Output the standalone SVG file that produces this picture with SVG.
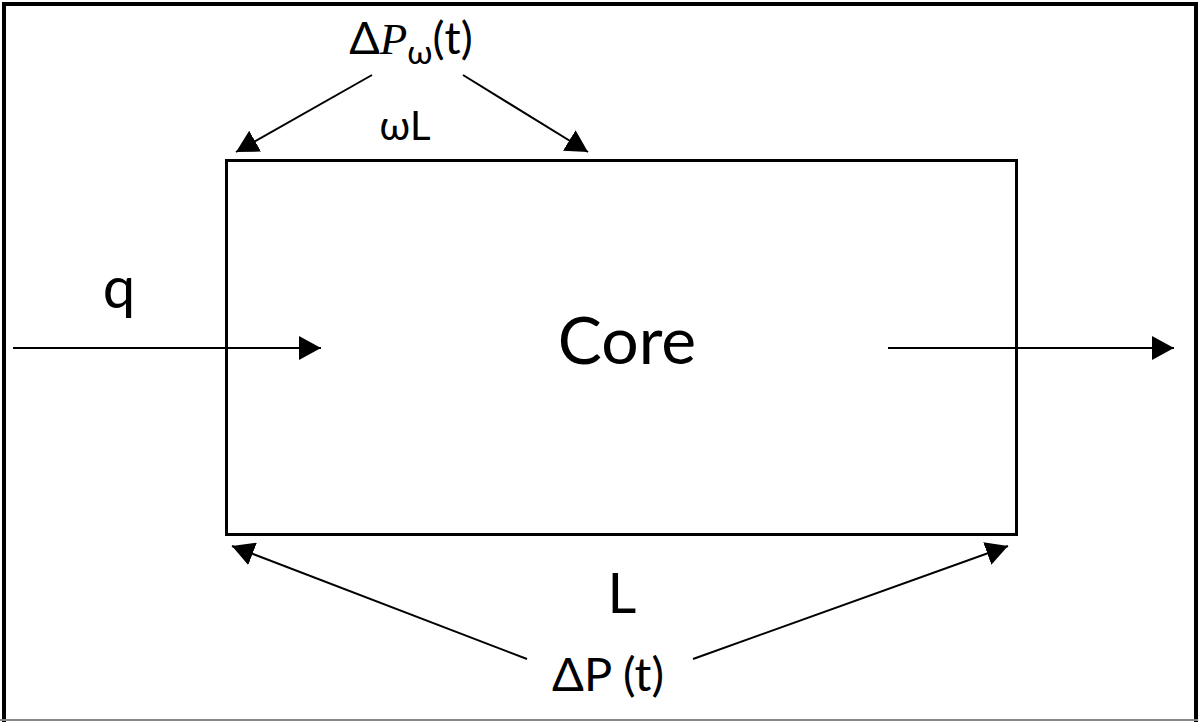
<svg xmlns="http://www.w3.org/2000/svg" width="1198" height="722" viewBox="0 0 1198 722">
<style>
.t{font-family:Lato,"Open Sans","Liberation Sans",sans-serif;fill:#000}
.c{fill:none;stroke:#000;stroke-width:2}
</style>
<defs>
<marker id="ah" viewBox="0 0 22 24" refX="22" refY="12" markerWidth="22" markerHeight="24" markerUnits="userSpaceOnUse" orient="auto">
<path d="M0,0 L22,12 L0,24 Z" fill="#000"/>
</marker>
</defs>
<rect width="1198" height="722" fill="#fff"/>
<g id="frame">
<path d="M4,722 V4 H1196 V722" fill="none" stroke="#000" stroke-width="4"/>
<line x1="0" y1="720" x2="1198" y2="720" stroke="#888" stroke-width="2"/>
</g>
<g id="core">
<rect x="226.5" y="160.5" width="790" height="374" fill="none" stroke="#000" stroke-width="3"/>
<text class="t" x="627" y="364" font-size="66" text-anchor="middle">Core</text>
</g>
<g id="label-dpw">
<text class="t" x="411" y="54" font-size="45" text-anchor="middle">Δ<tspan font-family="'Liberation Serif',serif" font-style="italic">P</tspan><tspan font-size="33" dy="10">ω</tspan><tspan dy="-10">(t)</tspan></text>
</g>
<g id="label-wl"><text class="t" x="405" y="140" font-size="40" text-anchor="middle">ωL</text></g>
<g id="label-q"><text class="t" x="119" y="308" font-size="58" text-anchor="middle">q</text></g>
<g id="label-l"><text class="t" x="622" y="613" font-size="56" text-anchor="middle">L</text></g>
<g id="label-dp"><text class="t" x="608" y="691" font-size="47" text-anchor="middle">ΔP (t)</text></g>
<g id="connectors">
<line class="c" x1="372" y1="75" x2="236" y2="152" marker-end="url(#ah)"/>
<line class="c" x1="463" y1="75" x2="588" y2="152" marker-end="url(#ah)"/>
<line class="c" x1="13" y1="348" x2="321" y2="348" marker-end="url(#ah)"/>
<line class="c" x1="888" y1="348" x2="1174" y2="348" marker-end="url(#ah)"/>
<line class="c" x1="527" y1="659" x2="232" y2="546" marker-end="url(#ah)"/>
<line class="c" x1="693" y1="659" x2="1008" y2="546" marker-end="url(#ah)"/>
</g>
</svg>
